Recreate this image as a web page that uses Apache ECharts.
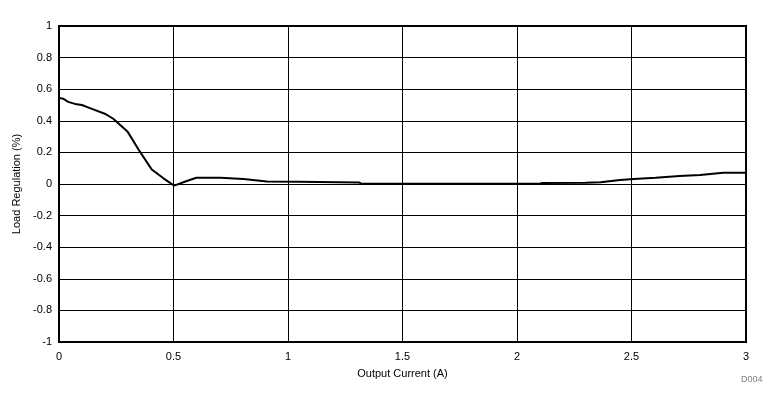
<!DOCTYPE html>
<html>
<head>
<meta charset="utf-8">
<script src="https://cdn.jsdelivr.net/npm/echarts@6/dist/echarts.min.js"></script>
<style>
html,body{margin:0;padding:0;background:#fff;}
#chart{width:779px;height:405px;}
</style>
</head>
<body>
<div id="chart"></div>
<script>
var xTitle = 'Output Current (A)';
var yTitle = 'Load Regulation (%)';
var current = [0, 0.018, 0.04, 0.07, 0.1, 0.135, 0.2, 0.237, 0.3, 0.354, 0.405, 0.456, 0.503, 0.558, 0.6, 0.704, 0.806, 0.908, 1.045, 1.31, 1.32, 2.1, 2.11, 2.3, 2.365, 2.45, 2.51, 2.605, 2.71, 2.8, 2.9, 3.0];
var regulation = [0.545, 0.54, 0.52, 0.507, 0.5, 0.48, 0.445, 0.413, 0.33, 0.203, 0.092, 0.036, -0.01, 0.019, 0.04, 0.04, 0.031, 0.016, 0.014, 0.01, 0.002, 0.002, 0.007, 0.008, 0.011, 0.025, 0.032, 0.04, 0.05, 0.057, 0.071, 0.071];
var seriesData = current.map(function (c, i) { return [c, regulation[i]]; });

var chart = echarts.init(document.getElementById('chart'), null, {renderer: 'canvas'});
var font = 'Arial, "Liberation Sans", sans-serif';
chart.setOption({
  animation: false,
  backgroundColor: '#fff',
  grid: {left: 59, right: 33, top: 26, bottom: 63, show: true, borderColor: '#000', borderWidth: 2, backgroundColor: 'transparent'},
  xAxis: {
    type: 'value', min: 0, max: 3, interval: 0.5,
    name: xTitle, nameLocation: 'middle', nameGap: 26,
    nameTextStyle: {color: '#000', fontSize: 11, fontFamily: font},
    axisLine: {show: false},
    axisTick: {show: false},
    axisLabel: {color: '#000', fontSize: 11, fontFamily: font, margin: 9},
    splitLine: {show: true, lineStyle: {color: '#000', width: 1}}
  },
  yAxis: {
    type: 'value', min: -1, max: 1, interval: 0.2,
    name: yTitle, nameLocation: 'middle', nameGap: 35, nameRotate: 90,
    nameTextStyle: {color: '#000', fontSize: 11, fontFamily: font},
    axisLine: {show: false},
    axisTick: {show: false},
    axisLabel: {color: '#000', fontSize: 11, fontFamily: font, margin: 7},
    splitLine: {show: true, lineStyle: {color: '#000', width: 1}}
  },
  graphic: [{
    type: 'text', left: 741, top: 375,
    style: {text: 'D004', fill: '#808080', fontSize: 9, fontFamily: font}
  }],
  series: [{
    type: 'line', data: seriesData, showSymbol: false, symbol: 'none',
    lineStyle: {color: '#000', width: 2}
  }]
});
</script>
</body>
</html>
